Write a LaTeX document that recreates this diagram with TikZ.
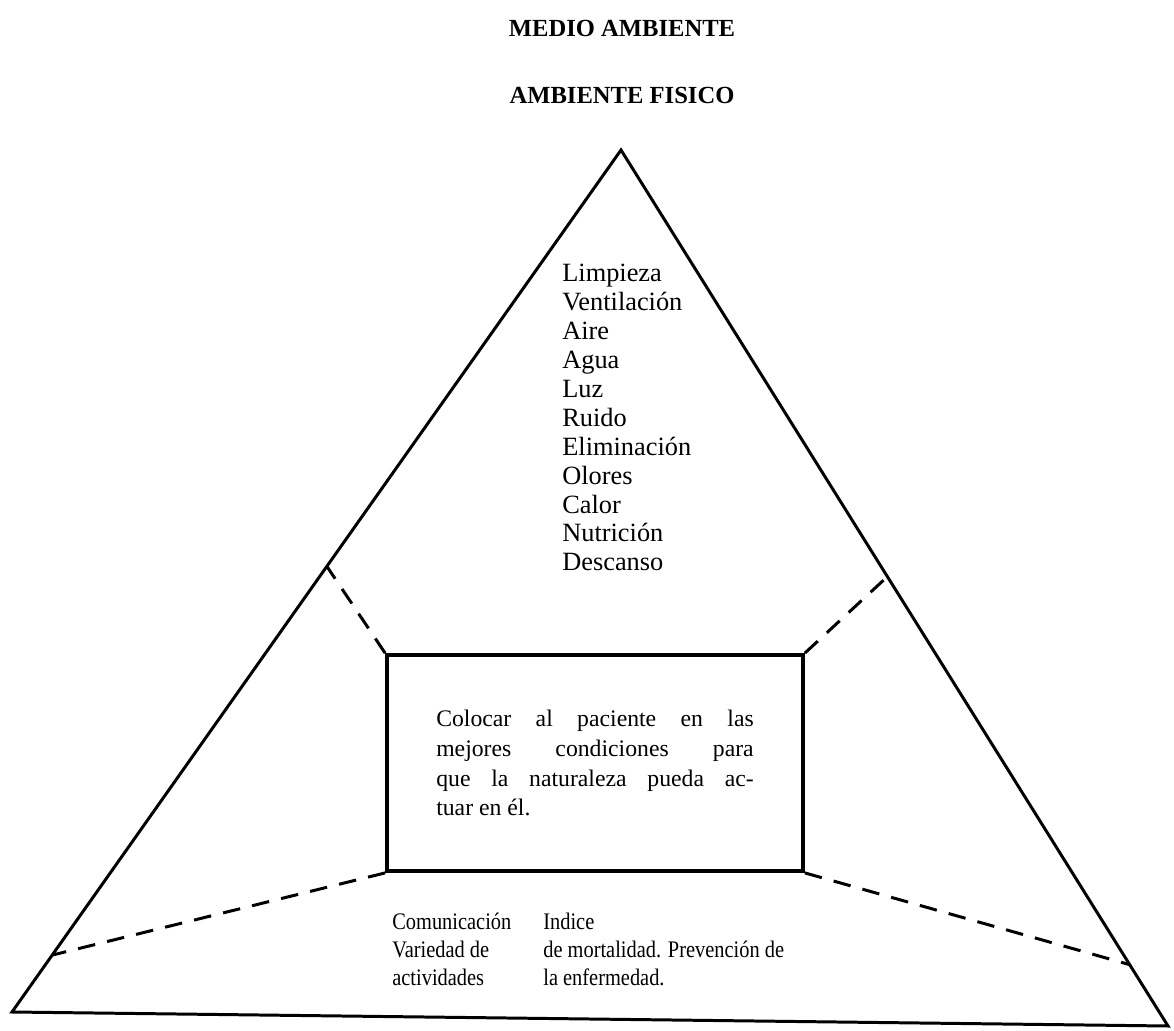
\documentclass[tikz,border=0pt]{standalone}
\usepackage{fontspec}
\setmainfont{Liberation Serif}
\newfontfamily\narrowserif[FakeStretch=0.86]{Liberation Serif}
\usetikzlibrary{positioning, calc}

\newcommand{\spreadline}[1]{\makebox[6.35cm][s]{#1}}

\begin{document}
\begin{tikzpicture}[x=0.02cm, y=-0.02cm,
    every node/.style={inner sep=0pt},
    title/.style={font=\fontsize{14}{16}\selectfont\bfseries},
    side/.style={line width=1.7pt, line join=miter},
    divider/.style={line width=1.7pt, dash pattern=on 10pt off 7pt},
    carebox/.style={draw, line width=2.2pt, minimum width=8.32cm, minimum height=4.32cm,
        align=left, font=\fontsize{13.5}{17}\selectfont},
    listtext/.style={align=left, font=\fontsize{15}{16.45}\selectfont},
    bottomtext/.style={align=left, font=\narrowserif\fontsize{13.5}{15.9}\selectfont}]
    \useasboundingbox (0,0) rectangle (1174,1031);
    % Titles
    \node[title] (medio) at (622,28) {MEDIO AMBIENTE};
    \node[title] (fisico) at (622,95) {AMBIENTE FISICO};
    % Triangle
    \coordinate (apex) at (621,150);
    \coordinate (bl) at (12,1012);
    \coordinate (br) at (1168,1026);
    \draw[side] (apex) -- (bl) -- (br) -- cycle;
    % Points on the sides
    \coordinate (lu) at ($(apex)!0.483!(bl)$);
    \coordinate (ll) at ($(apex)!0.934!(bl)$);
    \coordinate (ru) at ($(apex)!0.487!(br)$);
    \coordinate (rl) at ($(apex)!0.930!(br)$);
    % Needs list
    \node[listtext, anchor=north west] (needs) at (562,264)
        {Limpieza\\Ventilación\\Aire\\Agua\\Luz\\Ruido\\Eliminación\\Olores\\Calor\\Nutrición\\Descanso};
    % Centre box
    \node[carebox] (care) at (595,763)
        {\spreadline{Colocar al paciente en las}\\
         \spreadline{mejores condiciones para}\\
         \spreadline{que la naturaleza pueda ac-}\\
         tuar en él.};
    % Dashed dividers
    \draw[divider] (care.north west) -- (lu);
    \draw[divider] (care.north east) -- (ru);
    \draw[divider] (care.south west) -- (ll);
    \draw[divider] (care.south east) -- (rl);
    % Bottom texts
    \node[bottomtext, anchor=north west] (social) at (392,913)
        {Comunicación\\Variedad de\\actividades};
    \node[bottomtext, anchor=north west] (health) at (543,913)
        {Indice\\de mortalidad. Prevención de\\la enfermedad.};
\end{tikzpicture}
\end{document}
